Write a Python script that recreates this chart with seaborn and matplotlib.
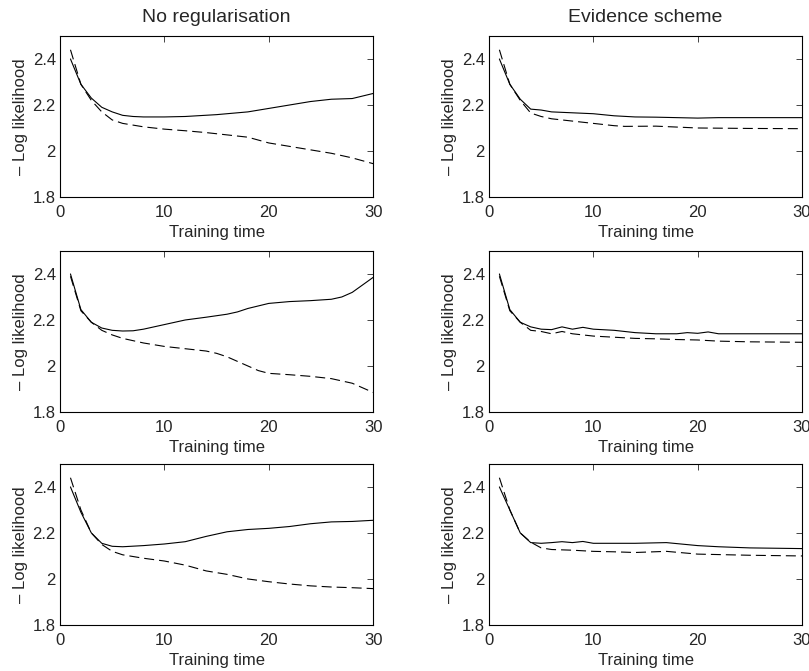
import matplotlib
matplotlib.use('Agg')
import matplotlib.pyplot as plt
import seaborn as sns
import pandas as pd

# column titles
col_titles = ['No regularisation', 'Evidence scheme']

# --- No regularisation, run 1
nr1_solid_x = [1, 2, 3, 4, 5, 6, 7, 8, 10, 12, 15, 18, 20, 22, 24, 26, 28, 30]
nr1_solid_y = [2.40, 2.29, 2.23, 2.19, 2.17, 2.155, 2.15, 2.148, 2.148, 2.15, 2.158, 2.17,
               2.185, 2.20, 2.215, 2.225, 2.228, 2.25]
nr1_dash_x = [1, 2, 3, 4, 5, 6, 8, 10, 12, 14, 16, 18, 20, 22, 24, 26, 28, 30]
nr1_dash_y = [2.44, 2.29, 2.22, 2.17, 2.135, 2.12, 2.105, 2.095, 2.088, 2.08, 2.07, 2.06,
              2.035, 2.02, 2.005, 1.99, 1.97, 1.945]

# --- No regularisation, run 2
nr2_solid_x = [1, 2, 3, 4, 5, 6, 7, 8, 10, 12, 14, 16, 17, 18, 20, 22, 24, 26, 27, 28, 30]
nr2_solid_y = [2.40, 2.245, 2.19, 2.165, 2.155, 2.152, 2.153, 2.16, 2.18, 2.20, 2.212,
               2.225, 2.235, 2.25, 2.272, 2.28, 2.284, 2.29, 2.30, 2.32, 2.385]
nr2_dash_x = [1, 2, 3, 4, 5, 6, 8, 10, 12, 14, 15, 16, 17, 18, 19, 20, 22, 24, 26, 28, 30]
nr2_dash_y = [2.39, 2.24, 2.19, 2.155, 2.135, 2.12, 2.10, 2.085, 2.075, 2.065, 2.055, 2.04,
              2.02, 2.0, 1.98, 1.968, 1.962, 1.955, 1.945, 1.925, 1.885]

# --- No regularisation, run 3
nr3_solid_x = [1, 2, 3, 4, 5, 6, 8, 10, 12, 14, 16, 18, 20, 22, 24, 26, 28, 30]
nr3_solid_y = [2.40, 2.29, 2.20, 2.155, 2.142, 2.14, 2.145, 2.152, 2.162, 2.185, 2.205,
               2.215, 2.22, 2.228, 2.24, 2.248, 2.25, 2.255]
nr3_dash_x = [1, 2, 3, 4, 5, 6, 8, 10, 12, 14, 16, 18, 20, 22, 24, 26, 28, 30]
nr3_dash_y = [2.44, 2.30, 2.20, 2.15, 2.12, 2.105, 2.09, 2.078, 2.06, 2.035, 2.02, 2.0,
              1.988, 1.978, 1.97, 1.965, 1.962, 1.958]

# --- Evidence scheme, run 1
ev1_solid_x = [1, 2, 3, 4, 5, 6, 8, 10, 12, 14, 16, 18, 20, 22, 25, 30]
ev1_solid_y = [2.40, 2.29, 2.225, 2.182, 2.178, 2.17, 2.166, 2.162, 2.153, 2.148, 2.147,
               2.145, 2.143, 2.145, 2.145, 2.145]
ev1_dash_x = [1, 2, 3, 4, 5, 6, 8, 10, 12, 13, 16, 20, 25, 30]
ev1_dash_y = [2.44, 2.29, 2.22, 2.165, 2.15, 2.14, 2.13, 2.12, 2.11, 2.107, 2.108, 2.10,
              2.098, 2.097]

# --- Evidence scheme, run 2
ev2_solid_x = [1, 2, 3, 4, 5, 6, 7, 8, 9, 10, 12, 14, 16, 18, 19, 20, 21, 22, 25, 30]
ev2_solid_y = [2.40, 2.245, 2.19, 2.17, 2.16, 2.158, 2.17, 2.16, 2.168, 2.16, 2.155, 2.145,
               2.14, 2.14, 2.145, 2.142, 2.148, 2.14, 2.14, 2.14]
ev2_dash_x = [1, 2, 3, 4, 5, 6, 7, 8, 10, 12, 14, 16, 18, 20, 22, 25, 30]
ev2_dash_y = [2.39, 2.24, 2.19, 2.155, 2.15, 2.14, 2.15, 2.14, 2.13, 2.125, 2.12, 2.118,
              2.115, 2.113, 2.108, 2.105, 2.103]

# --- Evidence scheme, run 3
ev3_solid_x = [1, 2, 3, 4, 5, 6, 7, 8, 9, 10, 12, 14, 17, 20, 22, 25, 30]
ev3_solid_y = [2.40, 2.30, 2.20, 2.158, 2.155, 2.158, 2.162, 2.158, 2.163, 2.155, 2.155,
               2.155, 2.158, 2.145, 2.14, 2.135, 2.132]
ev3_dash_x = [1, 2, 3, 4, 5, 6, 8, 10, 12, 14, 17, 20, 25, 30]
ev3_dash_y = [2.44, 2.30, 2.20, 2.16, 2.135, 2.128, 2.125, 2.12, 2.118, 2.115, 2.12, 2.108,
              2.103, 2.10]

panels = [
    [(nr1_solid_x, nr1_solid_y, nr1_dash_x, nr1_dash_y),
     (ev1_solid_x, ev1_solid_y, ev1_dash_x, ev1_dash_y)],
    [(nr2_solid_x, nr2_solid_y, nr2_dash_x, nr2_dash_y),
     (ev2_solid_x, ev2_solid_y, ev2_dash_x, ev2_dash_y)],
    [(nr3_solid_x, nr3_solid_y, nr3_dash_x, nr3_dash_y),
     (ev3_solid_x, ev3_solid_y, ev3_dash_x, ev3_dash_y)],
]

x_ticks = [0, 10, 20, 30]
y_ticks = [1.8, 2.0, 2.2, 2.4]
y_tick_labels = ['1.8', '2', '2.2', '2.4']

sns.set_style('white')
plt.rcParams['font.family'] = ['Liberation Sans', 'DejaVu Sans']

fig = plt.figure(figsize=(8.09, 6.71), dpi=100)

# axes boxes in figure fractions
col_x0 = [0.0742, 0.6044]
col_w = 0.387
row_y0 = [0.7064, 0.386, 0.0686]
row_h = 0.240

for r in range(3):
    for c in range(2):
        ax = fig.add_axes([col_x0[c], row_y0[r], col_w, row_h])
        sx, sy, dx, dy = panels[r][c]
        sns.lineplot(x=sx, y=sy, ax=ax, color='black', lw=0.8)
        sns.lineplot(x=dx, y=dy, ax=ax, color='black', lw=0.8,
                     linestyle=(0, (9, 4.5)))
        ax.set_xlim(0, 30)
        ax.set_ylim(1.8, 2.5)
        ax.set_xticks(x_ticks)
        ax.set_yticks(y_ticks)
        ax.set_yticklabels(y_tick_labels)
        ax.tick_params(direction='in', top=True, right=True, length=4,
                       width=0.6, labelsize=12)
        ax.tick_params(axis='x', pad=5.5)
        ax.tick_params(axis='y', pad=3)
        for sp in ax.spines.values():
            sp.set_color('black')
            sp.set_linewidth(0.8)
        ax.set_xlabel('Training time', fontsize=12, labelpad=4)
        ax.set_ylabel('\u2013 Log likelihood', fontsize=12, labelpad=3)
        if r == 0:
            ax.set_title(col_titles[c], fontsize=14, pad=10)

fig.savefig('out.png', dpi=100)
